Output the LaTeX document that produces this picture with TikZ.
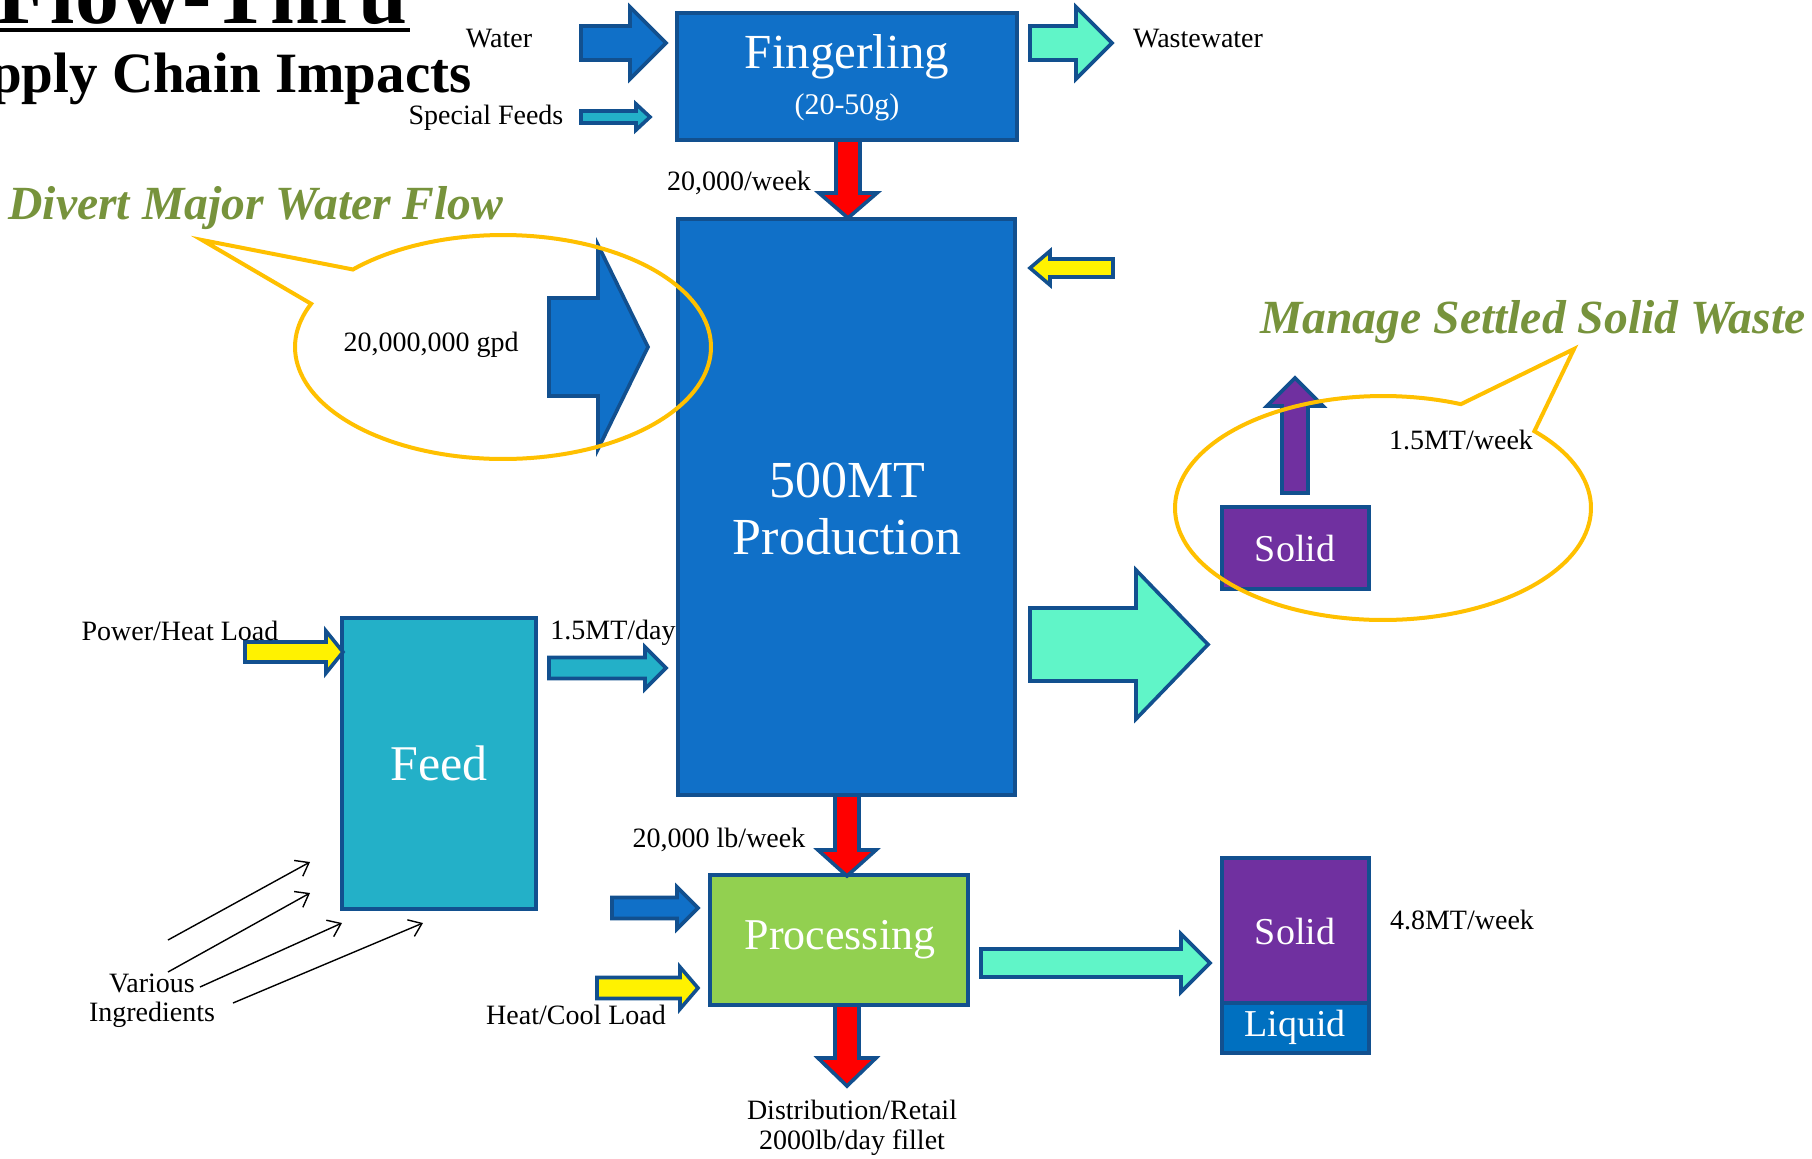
\documentclass[tikz,border=0pt]{standalone}
\usepackage{fontspec}
\setmainfont{Liberation Serif}
\usetikzlibrary{arrows.meta}
\definecolor{boxblue}{HTML}{1070C8}
\definecolor{navy}{HTML}{12508F}
\definecolor{feedteal}{HTML}{23B0C8}
\definecolor{aqua}{HTML}{60F5C8}
\definecolor{procgreen}{HTML}{92D050}
\definecolor{wpurple}{HTML}{7030A0}
\definecolor{liqblue}{HTML}{0070C0}
\definecolor{gold}{HTML}{FFC000}
\definecolor{olive}{HTML}{77933C}
\newcommand\setfs[1]{\fontsize{#1pt}{#1pt}\selectfont}
% right/left block arrow: style, x1, x2(tip), xh(head base), y, half shaft, half head
\newcommand\rarr[7]{\draw[#1] ({#2},{#5-#6}) -- ({#4},{#5-#6}) -- ({#4},{#5-#7}) -- ({#3},{#5}) -- ({#4},{#5+#7}) -- ({#4},{#5+#6}) -- ({#2},{#5+#6}) -- cycle;}
% down/up block arrow: style, x, y1, y2(tip), yh(head base), half shaft, half head
\newcommand\darr[7]{\draw[#1] ({#2-#6},{#3}) -- ({#2-#6},{#5}) -- ({#2-#7},{#5}) -- ({#2},{#4}) -- ({#2+#7},{#5}) -- ({#2+#6},{#5}) -- ({#2+#6},{#3}) -- cycle;}
\tikzset{
  procbox/.style={draw=navy, line width=2.2pt, inner sep=0pt},
  barrow/.style={draw=navy, line width=1.8pt, line join=miter},
  lab/.style={font=\setfs{14}, text=black, inner sep=0pt},
  wlab/.style={text=white, inner sep=0pt},
  callout/.style={draw=gold, line width=2pt},
  note/.style={font=\setfs{23.8}\bfseries\itshape, text=olive, inner sep=0pt},
  ingr/.style={-{Straight Barb[length=6pt,width=9pt]}, line width=0.7pt, black}
}
\begin{document}
\begin{tikzpicture}[x=0.5pt,y=-0.5pt]
\useasboundingbox (0,0) rectangle (1812,1158);
\clip (0,0) rectangle (1812,1158);
\fill[white] (0,0) rectangle (1812,1158);

% title
\node[anchor=base east, font=\setfs{44}\bfseries, inner sep=0pt] (title1) at (408,23) {Flow-Thru};
\draw[line width=2pt] (0,30) -- (410,30);
\node[anchor=base east, font=\setfs{28.5}\bfseries, inner sep=0pt] (title2) at (472,92) {Supply Chain Impacts};

% boxes
\node[procbox, fill=boxblue, minimum width=170pt, minimum height=63.5pt] (fing) at (847,76.5) {};
\node[procbox, fill=boxblue, minimum width=168.5pt, minimum height=288pt] (prod) at (846.5,507) {};
\node[procbox, fill=feedteal, minimum width=97pt, minimum height=145.5pt] (feed) at (439,763.5) {};
\node[procbox, fill=procgreen, minimum width=129pt, minimum height=65pt] (proc) at (839,940) {};
\node[procbox, fill=wpurple, minimum width=73.5pt, minimum height=41pt] (solidA) at (1295.5,548) {};
\node[procbox, fill=wpurple, minimum width=73.5pt, minimum height=72.5pt] (solidB) at (1295.5,930.5) {};
\node[procbox, fill=liqblue, minimum width=73.5pt, minimum height=25pt] (liquid) at (1295.5,1028) {};

% block arrows
\rarr{barrow, fill=boxblue}{581}{666}{630}{43}{17}{36}
\rarr{barrow, fill=feedteal}{581}{650}{636}{117}{6}{13}
\rarr{barrow, fill=aqua}{1030}{1112}{1076}{43}{17}{36}
\darr{barrow, fill=red}{848}{140}{218}{193}{12}{29}
\rarr{barrow, fill=yellow}{1113}{1030}{1050}{268}{9}{17}
\rarr{barrow, fill=boxblue}{549}{648}{598}{347}{49}{102}
\darr{barrow, fill=wpurple}{1295}{493}{378}{406}{13}{28}
\rarr{barrow, fill=aqua}{1030}{1208}{1136}{644.5}{36.5}{74.5}
\rarr{barrow, fill=yellow}{245}{343}{326}{652}{10}{21}
\rarr{barrow, fill=feedteal}{549}{666}{645}{668}{10.5}{21}
\darr{barrow, fill=red}{847}{795}{876}{850}{12}{29}
\rarr{barrow, fill=boxblue}{612}{698}{677}{908}{10.5}{21}
\rarr{barrow, fill=yellow}{597}{698}{680}{988}{10.5}{21}
\darr{barrow, fill=red}{847}{1005}{1086}{1058}{12}{29}
\rarr{barrow, fill=aqua}{981}{1210}{1181}{963}{14}{29}

% ingredient arrows
\coordinate (i1s) at (168,940); \coordinate (i1e) at (310,862);
\coordinate (i2s) at (168,972); \coordinate (i2e) at (310,893);
\coordinate (i3s) at (200,987); \coordinate (i3e) at (342,923);
\coordinate (i4s) at (233,1003); \coordinate (i4e) at (423,923);
\draw[ingr] (i1s) -- (i1e);
\draw[ingr] (i2s) -- (i2e);
\draw[ingr] (i3s) -- (i3e);
\draw[ingr] (i4s) -- (i4e);

% callouts
\draw[callout] (202,240) -- plot[domain=223.8:562.7, samples=150] ({503+208*cos(\x)},{347+112*sin(\x)}) -- cycle;
\draw[callout] (1574,349) -- plot[domain=316.7:652, samples=150] ({1383+208*cos(\x)},{508+112*sin(\x)}) -- cycle;

% texts in boxes
\node[wlab, font=\setfs{24.5}] (tfing) at (847,57) {Fingerling};
\node[wlab, font=\setfs{15}] (tfing2) at (847,107) {(20-50g)};
\node[wlab, font=\setfs{26}] (tprod1) at (847,480) {500MT};
\node[wlab, font=\setfs{26}] (tprod2) at (847,537) {Production};
\node[wlab, font=\setfs{25}] (tfeed) at (439,763) {Feed};
\node[wlab, font=\setfs{22}] (tproc) at (840,940) {Processing};
\node[wlab, font=\setfs{19}] (tsolA) at (1295,548) {Solid};
\node[wlab, font=\setfs{19}] (tsolB) at (1295,931) {Solid};
\node[wlab, font=\setfs{19}] (tliq) at (1295,1027) {Liquid};

% labels
\node[lab] (lwater) at (499,39) {Water};
\node[lab] (lspec) at (486,118) {Special Feeds};
\node[lab] (lwaste) at (1198,39) {Wastewater};
\node[lab] (lfw) at (739,183) {20,000/week};
\node[lab] (lgpd) at (431,345) {20,000,000 gpd};
\node[lab] (lmtw) at (1461,440) {1.5MT/week};
\node[lab] (lpow) at (180,631) {Power/Heat Load};
\node[lab] (lmtd) at (613,633) {1.5MT/day};
\node[lab] (llbw) at (719,840) {20,000 lb/week};
\node[lab] (lheat) at (576,1015) {Heat/Cool Load};
\node[lab] (ldist) at (852,1110) {Distribution/Retail};
\node[lab] (lfil) at (852,1143) {2000lb/day fillet};
\node[lab] (l48) at (1462,920) {4.8MT/week};
\node[lab] (lvar) at (152,983) {Various};
\node[lab] (ling) at (152,1015) {Ingredients};

% notes
\node[note] (ndiv) at (256,208) {Divert Major Water Flow};
\node[note] (nman) at (1533,322) {Manage Settled Solid Waste};
\end{tikzpicture}
\end{document}
